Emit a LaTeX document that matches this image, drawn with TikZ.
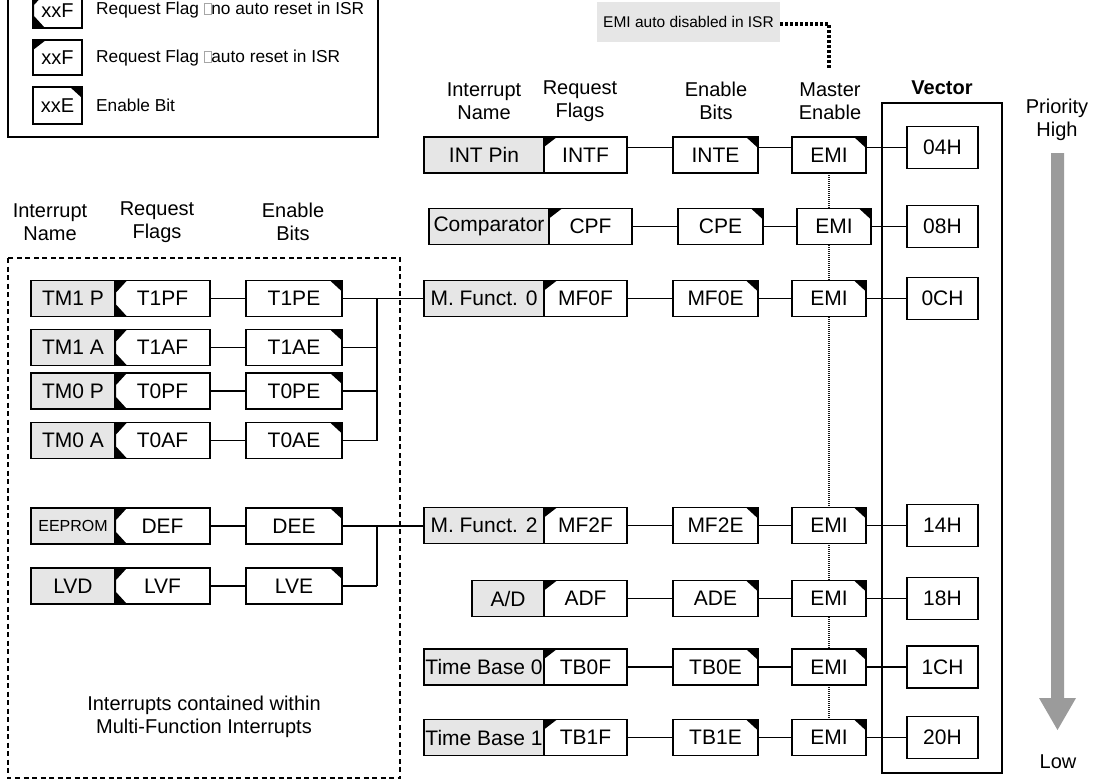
\documentclass[tikz,border=0pt]{standalone}
\usepackage{fontspec}
\setmainfont{Liberation Sans}
\usetikzlibrary{calc}
\definecolor{boxgray}{RGB}{230,230,230}
\definecolor{arrowgray}{RGB}{155,155,155}
\newcommand{\tofu}{{\color{gray!70}\setlength{\fboxsep}{0pt}\setlength{\fboxrule}{0.7pt}\fbox{\rule{0pt}{11pt}\rule{6pt}{0pt}}}}
\tikzset{
  bx/.style={draw, line width=1.1pt, inner sep=0pt, minimum height=36pt, fill=white,
     font=\fontsize{21}{23}\selectfont},
  namebox/.style={bx, fill=boxgray, minimum width=120pt},
  smallname/.style={bx, fill=boxgray, minimum width=84pt},
  flagA/.style={bx, minimum width=83pt,
     path picture={\fill[black] (path picture bounding box.north west) -- ++(13pt,0pt) -- ++(-13pt,-10pt) -- cycle;}},
  flagN/.style={bx, minimum width=95pt,
     path picture={\fill[black] (path picture bounding box.north west) -- ++(12pt,0pt) -- ++(-11pt,-12pt)
        -- ($(path picture bounding box.south west)+(1pt,12pt)$) -- ++(11pt,-12pt)
        -- (path picture bounding box.south west) -- cycle;}},
  enbox/.style={bx, minimum width=85pt,
     path picture={\fill[black] (path picture bounding box.north east) -- ++(-12pt,0pt) -- ++(12pt,-11pt) -- cycle;}},
  emibox/.style={enbox, minimum width=74pt},
  vecbox/.style={bx, minimum width=71pt, minimum height=42pt},
  hdr/.style={align=center, font=\fontsize{20}{23}\selectfont, inner sep=0pt},
  lgtext/.style={anchor=west, font=\fontsize{17.3}{20}\selectfont, inner sep=0pt},
  conn/.style={line width=1.2pt},
}
\begin{document}
\begin{tikzpicture}[x=1pt,y=-1pt]
\clip (0,0) rectangle (1093,780);
\fill[white] (0,0) rectangle (1093,780);

% ---------- legend ----------
\draw[line width=1.3pt] (8,-20) rectangle (378,137);
\node[flagN, minimum width=49pt, minimum height=35pt, font=\fontsize{20}{22}\selectfont] (lg1) at (57.5,10.5) {xxF};
\node[flagA, minimum width=49pt, minimum height=35pt, font=\fontsize{20}{22}\selectfont] (lg2) at (57.5,57.5) {xxF};
\node[enbox, minimum width=49pt, minimum height=37pt, font=\fontsize{20}{22}\selectfont] (lg3) at (57.5,105.5) {xxE};
\node[lgtext] (lt1) at (96,10) {Request Flag \tofu no auto reset in ISR};
\node[lgtext] (lt2) at (96,58) {Request Flag \tofu auto reset in ISR};
\node[lgtext] (lt3) at (96,105) {Enable Bit};

% ---------- EMI auto disabled ----------
\node[fill=boxgray, minimum width=183pt, minimum height=40pt, inner sep=0pt,
      font=\fontsize{15.5}{18}\selectfont] (emiauto) at (688.5,22) {EMI auto disabled in ISR};
\coordinate (emicorner) at (829,24);
\coordinate (emidown) at (829,70);
\draw[line width=3.2pt, dash pattern=on 3pt off 2pt] (emiauto.east |- emicorner) -- (emicorner) -- (emidown);

% ---------- headers ----------
\node[hdr] (hR1) at (484,101) {Interrupt\\Name};
\node[hdr] (hR2) at (580,101) {Request\\Flags};
\node[hdr] (hR3) at (716,101) {Enable\\Bits};
\node[hdr] (hR4) at (830,101) {Master\\Enable};
\node[hdr, font=\bfseries\fontsize{20}{23}\selectfont] (hR5) at (942,88) {Vector};
\node[hdr] (hR6) at (1057,119.5) {Priority\\High};

\node[hdr] (hL1) at (50,222) {Interrupt\\Name};
\node[hdr] (hL2) at (157,222) {Request\\Flags};
\node[hdr] (hL3) at (293,222) {Enable\\Bits};

% ---------- vector outer box ----------
\draw[line width=1.3pt] (882,103) rectangle (1002,773);

% ---------- EMI chain (dotted) ----------
\coordinate (chaintop) at (829,155);
\coordinate (chainbot) at (829,737.5);
\draw[line width=1.8pt, dash pattern=on 1.2pt off 0.8pt, black!90] (chaintop) -- (chainbot);

% ---------- priority arrow ----------
\fill[arrowgray] (1051,153) -- (1064,153) -- (1064,698) -- (1076,698) -- (1057.5,730) -- (1039,698) -- (1051,698) -- cycle;
\node[hdr] (low) at (1058,762) {Low};

% ---------- right rows ----------
% row 1
\node[namebox] (n1) at (484,155) {INT Pin};
\node[flagA] (f1) at (585.5,155) {INTF};
\node[enbox] (e1) at (715.5,155) {INTE};
\node[emibox] (m1) at (829,155) {EMI};
\node[vecbox] (v1) at (942.5,147.5) {04H};
% row 2
\node[namebox] (n2) at (489,226.5) {Comparator};
\node[flagA] (f2) at (590.5,226.5) {CPF};
\node[enbox] (e2) at (720.5,226.5) {CPE};
\node[emibox] (m2) at (834,226.5) {EMI};
\node[vecbox] (v2) at (942.5,226.5) {08H};
% row 3
\node[namebox] (n3) at (484,298.5) {M. Funct. 0};
\node[flagA] (f3) at (585.5,298.5) {MF0F};
\node[enbox] (e3) at (715.5,298.5) {MF0E};
\node[emibox] (m3) at (829,298.5) {EMI};
\node[vecbox] (v3) at (942.5,298.5) {0CH};
% row 4
\node[namebox] (n4) at (484,525.5) {M. Funct. 2};
\node[flagA] (f4) at (585.5,525.5) {MF2F};
\node[enbox] (e4) at (715.5,525.5) {MF2E};
\node[emibox] (m4) at (829,525.5) {EMI};
\node[vecbox] (v4) at (942.5,525.5) {14H};
% row 5
\node[namebox, minimum width=72pt] (n5) at (508,598.5) {A/D};
\node[flagA] (f5) at (585.5,598.5) {ADF};
\node[enbox] (e5) at (715.5,598.5) {ADE};
\node[emibox] (m5) at (829,598.5) {EMI};
\node[vecbox] (v5) at (942.5,598.5) {18H};
% row 6
\node[namebox] (n6) at (484,667) {Time Base 0};
\node[flagA] (f6) at (585.5,667) {TB0F};
\node[enbox] (e6) at (715.5,667) {TB0E};
\node[emibox] (m6) at (829,667) {EMI};
\node[vecbox] (v6) at (942.5,667) {1CH};
% row 7
\node[namebox] (n7) at (484,737.5) {Time Base 1};
\node[flagA] (f7) at (585.5,737.5) {TB1F};
\node[enbox] (e7) at (715.5,737.5) {TB1E};
\node[emibox] (m7) at (829,737.5) {EMI};
\node[vecbox] (v7) at (942.5,737.5) {20H};

% right connectors
\draw[conn] (f1.east |- v1.center) -- (e1.west |- v1.center);
\draw[conn] (e1.east |- v1.center) -- (m1.west |- v1.center);
\draw[conn] (m1.east |- v1.center) -- (v1.west);
\foreach \r in {2,...,7}{
  \draw[conn] (f\r) -- (e\r);
  \draw[conn] (e\r) -- (m\r);
  \draw[conn] (m\r) -- (v\r);
}

% ---------- left dashed box ----------
\draw[line width=2pt, dash pattern=on 5pt off 3.5pt] (8,258) rectangle (400,778);

% left rows
\node[smallname] (ln1) at (73,298.5) {TM1 P};
\node[flagN] (lf1) at (162.5,298.5) {T1PF};
\node[enbox, minimum width=96pt] (le1) at (294,298.5) {T1PE};
\node[smallname] (ln2) at (73,347.5) {TM1 A};
\node[flagN] (lf2) at (162.5,347.5) {T1AF};
\node[enbox, minimum width=96pt] (le2) at (294,347.5) {T1AE};
\node[smallname] (ln3) at (73,391) {TM0 P};
\node[flagN] (lf3) at (162.5,391) {T0PF};
\node[enbox, minimum width=96pt] (le3) at (294,391) {T0PE};
\node[smallname] (ln4) at (73,440.5) {TM0 A};
\node[flagN] (lf4) at (162.5,440.5) {T0AF};
\node[enbox, minimum width=96pt] (le4) at (294,440.5) {T0AE};
\node[smallname, font=\fontsize{16}{18}\selectfont] (ln5) at (73,526) {EEPROM};
\node[flagN] (lf5) at (162.5,526) {DEF};
\node[enbox, minimum width=96pt] (le5) at (294,526) {DEE};
\node[smallname] (ln6) at (73,586) {LVD};
\node[flagN] (lf6) at (162.5,586) {LVF};
\node[enbox, minimum width=96pt] (le6) at (294,586) {LVE};

\foreach \r in {1,...,6}{ \draw[conn] (lf\r) -- (le\r); }

\coordinate (busA) at (377,298.5);
\coordinate (busB) at (377,526);
\draw[conn] (le1.east) -- (n3.west);
\draw[conn] (busA) -- (busA |- le4.east);
\foreach \r in {2,3,4}{ \draw[conn] (le\r.east) -- (le\r.east -| busA); }
\draw[conn] (le5.east) -- (le5.east -| n4.west);
\draw[conn] (busB) -- (busB |- le6.east);
\draw[conn] (le6.east) -- (le6.east -| busB);

\node[hdr] (note) at (204,717) {Interrupts contained within\\Multi-Function Interrupts};
\end{tikzpicture}
\end{document}
